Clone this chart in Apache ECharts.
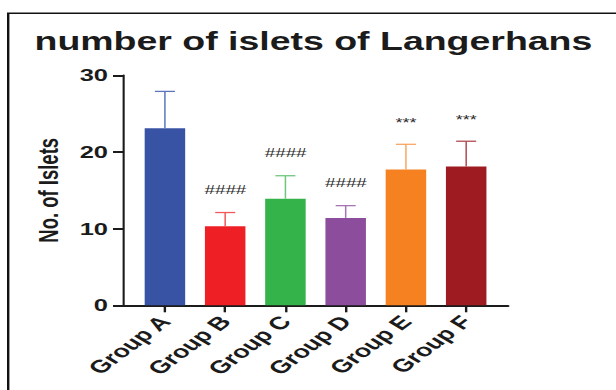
<!DOCTYPE html>
<html>
<head>
<meta charset="utf-8">
<script src="https://cdn.jsdelivr.net/npm/echarts@6/dist/echarts.min.js"></script>
<style>
  html, body { margin: 0; padding: 0; background: #fff; overflow: hidden; }
  /* the figure is laid out narrow, then widened horizontally */
  #chart { width: 411px; height: 390px; transform: scaleX(1.4988); transform-origin: 0 0; }
</style>
</head>
<body>
<div id="chart"></div>
<script>
// Islet counts per group: mean and upper SD
const categories = ['Group A', 'Group B', 'Group C', 'Group D', 'Group E', 'Group F'];
const means = [23.1, 10.3, 13.9, 11.4, 17.7, 18.1];
const sds = [4.8, 1.8, 3.0, 1.6, 3.3, 3.3];
const marks = ['', '####', '####', '####', '***', '***'];
const yTicks = [0, 10, 20, 30];

const barColors = ['#3853a4', '#ee1f25', '#34b34a', '#8b4d9c', '#f68121', '#9d1b21'];
const errColors = ['#5d76b9', '#f2575b', '#6cc77b', '#a574b3', '#f8a562', '#b14a4f'];

const SX = 616 / 411;            // horizontal widening factor
const X = px => px / SX;         // page x -> layout x

const chart = echarts.init(document.getElementById('chart'), null, { renderer: 'svg' });

const plotTop = 75.3, plotH = 230;
const ink = '#1b1b1b';

chart.setOption({
  animation: false,
  title: {
    text: 'number of islets of Langerhans',
    left: X(27), top: 24,
    textStyle: { fontFamily: 'Liberation Sans', fontWeight: 'bold', fontSize: 25, color: ink }
  },
  graphic: [{
    type: 'polyline',
    shape: { points: [[X(8.2), 400], [X(8.2), 13.2], [420, 13.2]] },
    style: { stroke: '#111', lineWidth: 1.6, fill: null }
  }],
  grid: [
    { left: X(134.8), top: plotTop, width: X(361.5), height: plotH },
    { left: X(124), top: plotTop, width: X(384), height: plotH }
  ],
  xAxis: [{
    type: 'category', gridIndex: 0, data: categories,
    axisLine: { show: false },
    axisTick: { show: true, alignWithLabel: true, length: 7, lineStyle: { color: ink, width: 1.6 } },
    axisLabel: {
      interval: 0, rotate: 48, margin: 13,
      fontFamily: 'Liberation Sans', fontWeight: 'bold', fontSize: 18, color: ink
    }
  }, {
    type: 'value', gridIndex: 1, min: 0, max: 1,
    axisLine: { show: true, lineStyle: { color: ink, width: 2 } },
    axisTick: { show: false }, axisLabel: { show: false }, splitLine: { show: false }
  }],
  yAxis: [{
    type: 'value', gridIndex: 0, min: yTicks[0], max: yTicks[yTicks.length - 1], interval: 10,
    offset: X(134.8) - X(124),
    name: 'No. of Islets', nameLocation: 'middle', nameGap: 41, nameRotate: 90,
    nameTextStyle: { fontFamily: 'Liberation Sans', fontWeight: 'bold', fontSize: 18.5, color: ink },
    axisLine: { show: true, lineStyle: { color: ink, width: 1.4 } },
    axisTick: { show: true, length: X(11), lineStyle: { color: ink, width: 2 } },
    axisLabel: {
      margin: X(16), fontFamily: 'Liberation Sans', fontWeight: 'bold', fontSize: 17, color: ink
    },
    splitLine: { show: false }
  }, {
    type: 'value', gridIndex: 1, show: false, min: 0, max: 1
  }],
  series: [{
    type: 'bar', xAxisIndex: 0, yAxisIndex: 0,
    barWidth: X(40.5),
    data: means.map((v, i) => ({ value: v, itemStyle: { color: barColors[i] } }))
  }, {
    type: 'custom', xAxisIndex: 0, yAxisIndex: 0,
    data: means.map((v, i) => [i, v, v + sds[i]]),
    renderItem: (params, api) => {
      const i = api.value(0);
      const base = api.coord([i, api.value(1)]);
      const top = api.coord([i, api.value(2)]);
      const half = X(10);
      const stroke = { stroke: errColors[i], lineWidth: 1.3 };
      const children = [
        { type: 'line', shape: { x1: base[0], y1: base[1], x2: top[0], y2: top[1] }, style: Object.assign({}, stroke, { lineWidth: 1 }) },
        { type: 'line', shape: { x1: top[0] - half, y1: top[1], x2: top[0] + half, y2: top[1] }, style: stroke }
      ];
      if (marks[i]) {
        const star = marks[i].indexOf('*') >= 0;
        children.push({
          type: 'text',
          x: top[0], y: top[1] - (star ? 22 : 23),
          style: {
            text: marks[i], align: 'center', verticalAlign: 'middle',
            fontFamily: 'Liberation Sans', fontStyle: star ? 'normal' : 'italic',
            fontSize: star ? 12 : 12.5, fill: '#2a2a2a'
          }
        });
      }
      return { type: 'group', children };
    },
    z: 3
  }]
});
</script>
</body>
</html>
